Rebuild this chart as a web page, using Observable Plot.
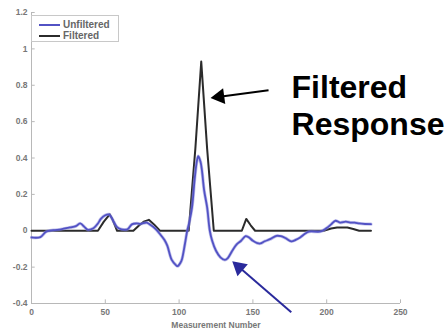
<!DOCTYPE html>
<html>
<head>
<meta charset="utf-8">
<script src="https://cdn.jsdelivr.net/npm/d3@7"></script>
<script src="https://cdn.jsdelivr.net/npm/@observablehq/plot@0.6"></script>
<style>
  html, body { margin: 0; padding: 0; background: #fff; }
  #wrap { position: relative; width: 448px; height: 331px; overflow: hidden; font-family: "Liberation Sans", Arial, sans-serif; }
  #legend { position: absolute; left: 31px; top: 15px; width: 88px; height: 27px; border: 1px solid #c8c8c8; background: #fff; box-sizing: border-box; }
  .item { position: absolute; left: 7px; height: 10px; font-size: 10px; font-weight: bold; color: #666; line-height: 10px; }
  .sw { position: absolute; left: 0; top: 4px; width: 21px; height: 2px; }
  .lab { position: absolute; left: 24px; top: 0; white-space: nowrap; }
</style>
</head>
<body>
<div id="wrap">
  <div id="chart"></div>
  <div id="legend"></div>
</div>
<script>
// ---- data ----
const seriesNames = ["Unfiltered", "Filtered"];
const seriesColors = ["#5252c4", "#2b2b2b"];

const unfilteredX = [0, 6, 10, 15, 20, 26, 30, 33, 36, 38, 42, 45, 47, 50, 52.5, 54, 56, 58, 61, 65, 68, 71, 74, 78, 81, 84, 87, 90, 92, 95, 98, 99, 101, 102, 104, 105.5, 107, 108.8, 110.5, 112, 113, 114.5, 115.5, 117, 119, 120.8, 122.4, 125, 128, 131, 133, 136, 139, 142, 145, 147, 150, 153, 155, 158, 162, 166, 169, 172, 176, 179, 182, 185, 188, 196, 200, 203, 206, 209, 213, 216, 219, 222, 226, 230];
const unfilteredY = [-0.037, -0.035, -0.005, 0.003, 0.008, 0.018, 0.025, 0.04, 0.02, 0.006, 0.014, 0.04, 0.065, 0.085, 0.09, 0.075, 0.045, 0.02, 0.008, 0.008, 0.035, 0.04, 0.038, 0.045, 0.03, 0.01, -0.018, -0.05, -0.082, -0.16, -0.19, -0.195, -0.175, -0.155, -0.07, 0.0, 0.05, 0.13, 0.28, 0.38, 0.41, 0.38, 0.33, 0.22, 0.128, 0.0, -0.055, -0.11, -0.146, -0.16, -0.15, -0.11, -0.075, -0.055, -0.03, -0.035, -0.055, -0.068, -0.07, -0.058, -0.045, -0.028, -0.03, -0.04, -0.058, -0.05, -0.037, -0.018, -0.005, -0.004, 0.015, 0.035, 0.055, 0.045, 0.05, 0.045, 0.045, 0.04, 0.037, 0.036];

const filteredX = [0, 45, 49, 53, 55, 58, 69, 73, 76, 79.5, 83, 87, 106.5, 111, 115, 119, 123.5, 142.5, 145.5, 148.5, 151.5, 198, 203, 207, 214, 218, 222, 230];
const filteredY = [0, 0, 0.05, 0.09, 0.06, 0, 0, 0.03, 0.05, 0.06, 0.035, 0, 0, 0.45, 0.93, 0.45, 0, 0, 0.065, 0.03, 0, 0, 0.012, 0.018, 0.018, 0.01, 0, 0];

const xTicks = [0, 50, 100, 150, 200, 250];
const xTickLabels = ["0", "50", "100", "150", "200", "250"];
const yTicks = [-0.4, -0.2, 0, 0.2, 0.4, 0.6, 0.8, 1, 1.2];
const yTickLabels = ["-0.4", "-0.2", "0", "0.2", "0.4", "0.6", "0.8", "1", "1.2"];
const xLabel = "Measurement Number";

const annotationText = "Filtered\nResponse";
const annotationPos = [176.2, 0.877];
const arrowTails = [[160.6, 0.773], [176, -0.448]];
const arrowTips = [[121.3, 0.73], [136, -0.168]];
const arrowColors = ["#000000", "#2a2a9c"];

// ---- layout ----
const W = 448, H = 331;
const mL = 31, mR = 48, mT = 12, mB = 28;
const xDomain = [0, 250], yDomain = [-0.4, 1.2];
const xS = d3.scaleLinear(xDomain, [mL, W - mR]);
const yS = d3.scaleLinear(yDomain, [H - mB, mT]);

const lines = [];
unfilteredX.forEach((x, i) => lines.push({x, y: unfilteredY[i], s: seriesNames[0]}));
filteredX.forEach((x, i) => lines.push({x, y: filteredY[i], s: seriesNames[1]}));

// arrows: line + filled triangular head
const headR = 5.9;
const headBack = 2 * Math.sqrt(Math.PI * headR * headR / (Math.sqrt(3) * 3));
const arrows = arrowTails.map((t, i) => {
  const tip = arrowTips[i];
  const tx = xS(t[0]), ty = yS(t[1]), px = xS(tip[0]), py = yS(tip[1]);
  const len = Math.hypot(px - tx, py - ty);
  const ux = (px - tx) / len, uy = (py - ty) / len;
  const cx = px - ux * headBack, cy = py - uy * headBack;
  return {
    x1: t[0], y1: t[1],
    x2: xS.invert(cx), y2: yS.invert(cy),
    rot: Math.atan2(uy, ux) * 180 / Math.PI + 90,
    color: arrowColors[i]
  };
});

const tickFont = {fontSize: 8.5, fontWeight: "bold", fill: "#777"};

const chart = Plot.plot({
  width: W, height: H,
  marginLeft: mL, marginRight: mR, marginTop: mT, marginBottom: mB,
  style: {fontFamily: "Liberation Sans, Arial, sans-serif", background: "#fff", overflow: "visible"},
  x: {domain: xDomain},
  y: {domain: yDomain},
  color: {domain: seriesNames, range: seriesColors},
  marks: [
    Plot.ruleX([xDomain[0]], {stroke: "#b8b8b8", strokeWidth: 1}),
    Plot.ruleY([yDomain[0]], {stroke: "#b8b8b8", strokeWidth: 1}),
    Plot.ruleX(xTicks, {x: d => d, y1: yDomain[0], y2: yDomain[0] + 0.02, stroke: "#b8b8b8"}),
    Plot.ruleY(yTicks, {y: d => d, x1: xDomain[0], x2: xDomain[0] + 2.5, stroke: "#b8b8b8"}),
    Plot.axisX({ticks: xTicks, tickFormat: (d, i) => xTickLabels[xTicks.indexOf(d)], tickSize: 0, tickPadding: 5,
      label: xLabel, labelAnchor: "center", labelOffset: 24, labelArrow: "none", ...tickFont, color: "#777"}),
    Plot.axisY({ticks: yTicks, tickFormat: d => yTickLabels[yTicks.findIndex(v => Math.abs(v - d) < 1e-9)], tickSize: 0, tickPadding: 4,
      label: null, ...tickFont, color: "#777"}),
    Plot.line(lines.filter(d => d.s === seriesNames[1]), {x: "x", y: "y", stroke: seriesColors[1], strokeWidth: 2, curve: "linear"}),
    Plot.line(lines.filter(d => d.s === seriesNames[0]), {x: "x", y: "y", stroke: "#8c8cdc", strokeWidth: 3.2, strokeOpacity: 0.55, curve: "catmull-rom"}),
    Plot.line(lines.filter(d => d.s === seriesNames[0]), {x: "x", y: "y", stroke: seriesColors[0], strokeWidth: 1.8, curve: "catmull-rom"}),
    Plot.link(arrows, {x1: "x1", y1: "y1", x2: "x2", y2: "y2", stroke: "color", strokeWidth: 2}),
    Plot.dot(arrows, {x: "x2", y: "y2", symbol: "triangle", r: headR, fill: "color", stroke: null, rotate: "rot"}),
    Plot.text([annotationText], {x: () => annotationPos[0], y: () => annotationPos[1], text: d => d,
      textAnchor: "start", lineAnchor: "top", lineHeight: 1.16, fontSize: 32, fontWeight: "bold", fill: "#000"})
  ]
});
// the x-axis label: make bold/gray
document.getElementById("chart").appendChild(chart);

// legend
const legend = document.getElementById("legend");
seriesNames.forEach((name, i) => {
  const item = document.createElement("div");
  item.className = "item";
  item.style.top = (4 + i * 11) + "px";
  const sw = document.createElement("div");
  sw.className = "sw";
  sw.style.background = seriesColors[i];
  const lab = document.createElement("div");
  lab.className = "lab";
  lab.textContent = name;
  item.appendChild(sw); item.appendChild(lab);
  legend.appendChild(item);
});
</script>
</body>
</html>
